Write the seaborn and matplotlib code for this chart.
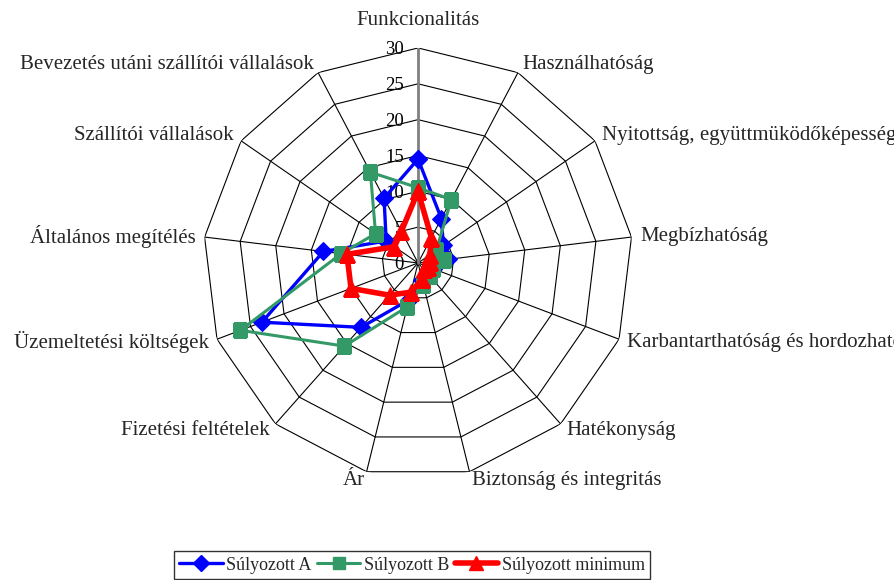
import numpy as np
import pandas as pd
import matplotlib
matplotlib.use("Agg")
import matplotlib.pyplot as plt
from matplotlib.lines import Line2D
import seaborn as sns

# Evaluation criteria, clockwise from the top
categories = [
    "Funkcionalitás",
    "Használhatóság",
    "Nyitottság, együttmüködőképesség",
    "Megbízhatóság",
    "Karbantarthatóság és hordozhatóság",
    "Hatékonyság",
    "Biztonság és integritás",
    "Ár",
    "Fizetési feltételek",
    "Üzemeltetési költségek",
    "Általános megítélés",
    "Szállítói vállalások",
    "Bevezetés utáni szállítói vállalások",
]

sulyozott_a = [14.5, 7.0, 4.3, 4.2, 2.2, 2.2, 2.5, 5.3, 12.0, 23.3, 13.3, 5.4, 10.2]
sulyozott_b = [10.5, 10.0, 3.1, 3.6, 2.3, 2.5, 3.1, 6.3, 15.5, 26.5, 10.8, 7.2, 14.3]
sulyozott_min = [10.0, 4.0, 2.0, 1.7, 1.5, 1.2, 2.3, 4.2, 6.0, 10.0, 10.0, 4.0, 5.0]

series_names = ["Súlyozott A", "Súlyozott B", "Súlyozott minimum"]
radial_ticks = [0, 5, 10, 15, 20, 25, 30]

sns.set_theme(style="white")
plt.rcParams["font.family"] = ["Liberation Serif", "DejaVu Serif"]

n = len(categories)
theta = np.linspace(0, 2 * np.pi, n, endpoint=False)
theta_closed = np.append(theta, theta[0])
rmax = radial_ticks[-1]

fig = plt.figure(figsize=(8.94, 5.8), dpi=100)
ax = fig.add_axes([0.2271, 0.1759, 0.481, 0.7414], projection="polar")
ax.set_theta_zero_location("N")
ax.set_theta_direction(-1)
ax.grid(False)
ax.spines["polar"].set_visible(False)

# Polygonal rings and spokes
for t in radial_ticks[1:]:
    ax.plot(theta_closed, [t] * (n + 1), color="black", lw=0.8, zorder=1)
for i, th in enumerate(theta):
    if i == 0:
        continue
    ax.plot([th, th], [0, rmax], color="black", lw=0.8, zorder=1)
ax.plot([0, 0], [0, rmax], color="#808080", lw=2.0, zorder=1.5)

# Value labels along the vertical axis
for t in radial_ticks:
    ax.annotate(str(t), xy=(0, t), xytext=(-14, -2), textcoords="offset pixels",
                ha="right", va="center", fontsize=13.5, color="black")

# Category labels outside each vertex
for th, lab in zip(theta, categories):
    s = np.sin(th)
    if abs(s) < 1e-6:
        ax.text(th, 33.9, lab, ha="center", va="center", fontsize=15)
    else:
        ha = "left" if s > 0 else "right"
        ax.text(th, 31.2, lab, ha=ha, va="center", fontsize=15, clip_on=False)

styles = [
    (sulyozott_a, "#0000FF", "D", 9, 2.4),
    (sulyozott_b, "#339966", "s", 9.5, 2.2),
    (sulyozott_min, "#FF0000", "^", 11.5, 4.0),
]

handles = []
for (vals, color, marker, ms, lw), name in zip(styles, series_names):
    df = pd.DataFrame({"theta": theta_closed, "value": np.append(vals, vals[0])})
    sns.lineplot(data=df, x="theta", y="value", ax=ax, sort=False, estimator=None,
                 color=color, marker=marker, markersize=ms, markeredgecolor=color,
                 markerfacecolor=color, lw=lw, legend=False, zorder=3)
    handles.append(Line2D([0], [0], color=color, marker=marker, markersize=ms * 0.9,
                          markeredgecolor=color, lw=lw, label=name))

ax.set_xlabel("")
ax.set_ylabel("")
ax.set_xticks([])
ax.set_yticks([])
ax.set_ylim(0, rmax)

leg = fig.legend(handles=handles, labels=series_names, loc="lower center",
                 bbox_to_anchor=(412 / 894, 0.0), ncol=3, frameon=True,
                 fancybox=False, edgecolor="black", fontsize=13,
                 handlelength=2.4, columnspacing=0.3, handletextpad=0.2,
                 borderpad=0.3, borderaxespad=0.05)
leg.get_frame().set_linewidth(1.0)

fig.savefig("out.png", dpi=100, facecolor="white")
